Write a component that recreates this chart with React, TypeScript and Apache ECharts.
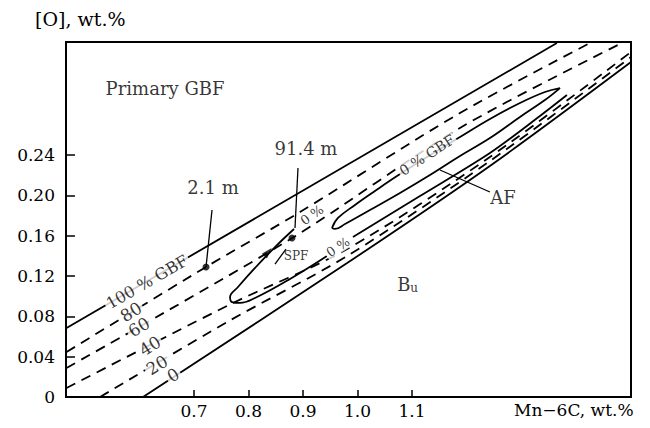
import React, { useEffect, useRef } from "react";
import * as echarts from "echarts";

// ---- data (x: Mn-6C wt.%, y: [O] wt.%) ----
const xTicks = [0.7, 0.8, 0.9, 1.0, 1.1];
const yTicks = [0, 0.04, 0.08, 0.12, 0.16, 0.2, 0.24];

const line100 = [[0.466, 0.0685], [1.366, 0.3512]];
const line80 = [[0.466, 0.0446], [0.722, 0.129], [0.8945, 0.1835], [1.188, 0.2817], [1.4266, 0.3512]];
const line60 = [[0.466, 0.0288], [0.88, 0.1577], [1.188, 0.2669], [1.4853, 0.3512]];
const line40 = [[0.466, 0.0089], [0.764, 0.0913], [0.981, 0.1468], [1.243, 0.2381], [1.502, 0.3423]];
const line20 = [[0.5275, 0.0], [0.764, 0.0754], [0.981, 0.1399], [1.243, 0.2341], [1.502, 0.3373]];
const line0 = [[0.6064, 0.0], [0.981, 0.1329], [1.243, 0.2292], [1.502, 0.3323]];

const afLoop = [
  [0.9532, 0.1677], [0.9642, 0.1776], [0.9954, 0.1905], [1.0321, 0.2044], [1.0725, 0.2192],
  [1.1275, 0.2381], [1.1881, 0.2579], [1.2431, 0.2758], [1.2982, 0.2917], [1.344, 0.3026],
  [1.3716, 0.3065], [1.344, 0.2946], [1.2982, 0.2778], [1.2431, 0.2569], [1.1881, 0.2391],
  [1.133, 0.2202], [1.078, 0.2024], [1.0229, 0.1855], [0.9771, 0.1716], [0.9587, 0.1667],
  [0.9532, 0.1677],
];

const spfArc = [
  [0.8835, 0.1667], [0.8486, 0.1488], [0.8119, 0.128], [0.7807, 0.1091], [0.7661, 0.0992],
  [0.7697, 0.0942], [0.7844, 0.0933], [0.8119, 0.0982], [0.8761, 0.1171], [0.944, 0.1399],
];
const spfLower = [[0.9917, 0.1587], [1.1147, 0.1994], [1.2431, 0.2421], [1.3349, 0.2788], [1.3844, 0.2996]];

const dots = [[0.722, 0.129], [0.8798, 0.1577]];
const leader21 = [[0.733, 0.1855], [0.722, 0.129]];
const leader914 = [[0.8908, 0.2272], [0.8853, 0.1677]];
const leaderAF = [[1.1514, 0.2252], [1.2431, 0.2034]];
const leaderSPF = [[0.8486, 0.1319], [0.8688, 0.1468]];
const arrowPos = [[0.8358, 0.1438]];

const contourLabels = [
  { text: "100 % GBF", value: [0.6138, 0.1141], rotate: 30, size: 16 },
  { text: "80", value: [0.5844, 0.0843], rotate: 32, size: 17 },
  { text: "60", value: [0.5991, 0.0694], rotate: 32, size: 17 },
  { text: "40", value: [0.6193, 0.0506], rotate: 32, size: 17 },
  { text: "20", value: [0.6321, 0.0317], rotate: 32, size: 17 },
  { text: "0", value: [0.6615, 0.0218], rotate: 32, size: 17 },
  { text: "0 %", value: [0.9165, 0.1806], rotate: 35, size: 13 },
  { text: "0 %", value: [0.9642, 0.1488], rotate: 33, size: 13 },
  { text: "0 % GBF", value: [1.1275, 0.2401], rotate: 33, size: 14 },
];
const regionLabels = [
  { text: "Primary GBF", value: [0.6468, 0.3065], size: 18 },
  { text: "2.1 m", value: [0.7349, 0.2083], size: 18 },
  { text: "91.4 m", value: [0.9055, 0.247], size: 18 },
  { text: "AF", value: [1.267, 0.1984], size: 18 },
  { text: "SPF", value: [0.8872, 0.1399], size: 12 },
  { text: "B", value: [1.0853, 0.1121], size: 18 },
  { text: "u", value: [1.1037, 0.1081], size: 12 },
];

const FONT = "'DejaVu Serif', 'Liberation Serif', serif";

function lineSeries(data: number[][], dashed: boolean, smooth: number | boolean = false, width = 1.8) {
  return {
    type: "line",
    data,
    symbol: "none",
    smooth,
    silent: true,
    lineStyle: { color: "#000", width, type: dashed ? [10, 7] : "solid" },
    z: 2,
  };
}

export default function App() {
  const ref = useRef<HTMLDivElement>(null);
  useEffect(() => {
    if (!ref.current) return;
    const chart = echarts.init(ref.current, undefined, { renderer: "svg" });
    chart.setOption({
      animation: false,
      backgroundColor: "#fff",
      textStyle: { fontFamily: FONT, color: "#000" },
      grid: { left: 66, right: 19, top: 42, bottom: 31, show: true, borderColor: "#000", borderWidth: 2, backgroundColor: "transparent" },
      xAxis: {
        type: "value",
        min: 0.465,
        max: 1.502,
        splitLine: { show: false },
        axisLine: { lineStyle: { color: "#000", width: 2 } },
        axisTick: { inside: true, length: 7, customValues: xTicks, lineStyle: { color: "#000", width: 1.5 } },
        axisLabel: {
          customValues: xTicks,
          formatter: (v: number) => v.toFixed(1),
          color: "#000",
          fontFamily: FONT,
          fontSize: 17,
          margin: 5,
        },
      },
      yAxis: {
        type: "value",
        min: 0,
        max: 0.3522,
        splitLine: { show: false },
        axisLine: { lineStyle: { color: "#000", width: 2 } },
        axisTick: { inside: true, length: 9, customValues: yTicks, lineStyle: { color: "#000", width: 1.5 } },
        axisLabel: {
          customValues: yTicks,
          formatter: (v: number) => (v === 0 ? "0" : v.toFixed(2)),
          color: "#000",
          fontFamily: FONT,
          fontSize: 17,
          margin: 11,
        },
      },
      graphic: [
        { type: "text", left: 35, top: 9, style: { text: "[O], wt.%", font: `19px ${FONT}`, fill: "#000" } },
        { type: "text", left: 514, top: 401, style: { text: "Mn\u22126C, wt.%", font: `17px ${FONT}`, fill: "#000" } },
      ],
      series: [
        lineSeries(line100, false),
        lineSeries(line80, true, 0.3),
        lineSeries(line60, true, 0.3),
        lineSeries(line40, true, 0.3),
        lineSeries(line20, true, 0.3),
        lineSeries(line0, false, 0.3),
        lineSeries(afLoop, false, 0.4),
        lineSeries(spfArc, false, 0.4),
        lineSeries(spfLower, false, 0.3),
        lineSeries(leader21, false, false, 1.3),
        lineSeries(leader914, false, false, 1.3),
        lineSeries(leaderAF, false, false, 1.3),
        lineSeries(leaderSPF, false, false, 1.3),
        {
          type: "scatter",
          data: dots,
          symbol: "circle",
          symbolSize: 7,
          itemStyle: { color: "#000" },
          z: 5,
          silent: true,
        },
        {
          type: "scatter",
          data: arrowPos,
          symbol: "triangle",
          symbolSize: [7, 11],
          symbolRotate: -42,
          itemStyle: { color: "#000" },
          z: 5,
          silent: true,
        },
        {
          type: "scatter",
          data: contourLabels.map((l) => ({
            value: l.value,
            label: { show: true, formatter: l.text, rotate: l.rotate, fontSize: l.size },
          })),
          symbolSize: 0,
          z: 6,
          silent: true,
          label: {
            position: "inside",
            color: "#000",
            fontFamily: FONT,
            backgroundColor: "#fff",
            padding: [0, 2],
          },
        },
        {
          type: "scatter",
          data: regionLabels.map((l) => ({
            value: l.value,
            label: { show: true, formatter: l.text, fontSize: l.size },
          })),
          symbolSize: 0,
          z: 6,
          silent: true,
          label: { position: "inside", color: "#000", fontFamily: FONT },
        },
      ],
    });
    return () => chart.dispose();
  }, []);
  return <div ref={ref} style={{ position: "absolute", left: 0, top: 0, width: 650, height: 428 }} />;
}
